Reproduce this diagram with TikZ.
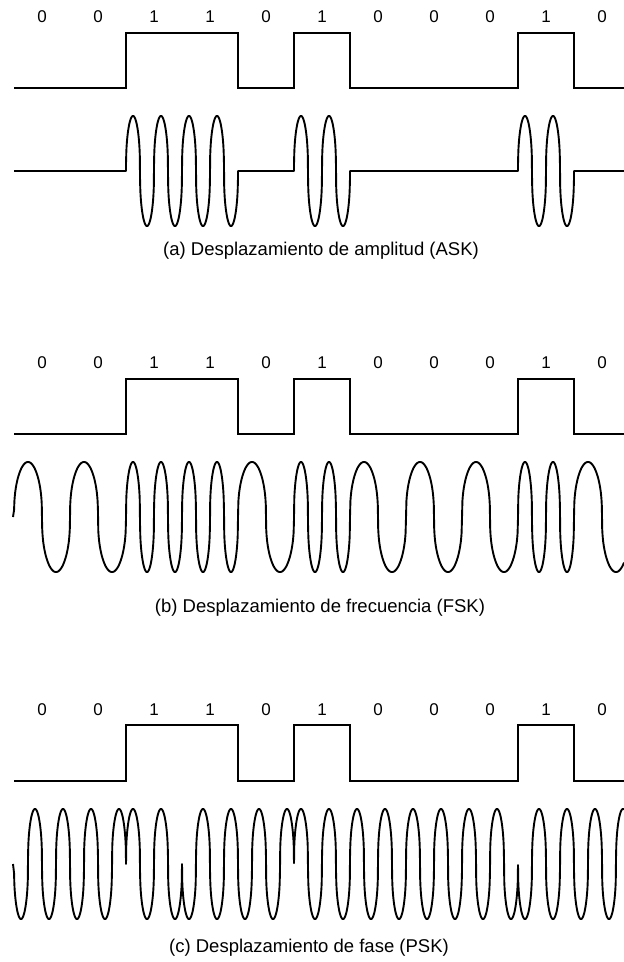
\documentclass[tikz,border=0pt]{standalone}
\usepackage{fontspec}
\setmainfont{Liberation Sans}
\begin{document}
\begin{tikzpicture}[x=1pt,y=-1pt,
  declare function={wv(\t)=sign(sin(\t))*pow(abs(sin(\t))+0.00001,0.4);},
  datasig/.style={line width=2.3pt, line join=miter, line cap=butt},
  wavesig/.style={line width=1.9pt, line join=round, line cap=butt},
  bitlbl/.style={inner sep=0pt, font=\fontsize{17}{17}\selectfont},
  caplbl/.style={inner sep=0pt, font=\fontsize{18.5}{18.5}\selectfont}]
\useasboundingbox (0,0) rectangle (624,962);
\fill[white] (0,0) rectangle (624,962);

% ---------- bit labels for the three panels ----------
\foreach \b [count=\i from 0] in {0,0,1,1,0,1,0,0,0,1,0} {
  \node[bitlbl] (ba\i) at ({42+56*\i},17) {\b};
  \node[bitlbl] (bb\i) at ({42+56*\i},363) {\b};
  \node[bitlbl] (bc\i) at ({42+56*\i},710) {\b};
}

% ---------- data signals ----------
\foreach \hi/\lo in {33/88, 379/434, 725/781} {
  \draw[datasig] (14,\lo) -- (126,\lo) -- (126,\hi) -- (238,\hi) -- (238,\lo)
     -- (294,\lo) -- (294,\hi) -- (350,\hi) -- (350,\lo) -- (518,\lo)
     -- (518,\hi) -- (574,\hi) -- (574,\lo) -- (624,\lo);
}

% ---------- (a) ASK ----------
\draw[wavesig] (14,171) -- (126,171)
  -- plot[domain=126.05:237.95, samples=400] (\x,{171-55*wv(12.857143*(\x-126))})
  -- (238,171) -- (294,171)
  -- plot[domain=294.05:349.95, samples=200] (\x,{171-55*wv(12.857143*(\x-294))})
  -- (350,171) -- (518,171)
  -- plot[domain=518.05:573.95, samples=200] (\x,{171-55*wv(12.857143*(\x-518))})
  -- (574,171) -- (624,171);
\node[caplbl] (capa) at (321,251) {(a) Desplazamiento de amplitud (ASK)};

% ---------- (b) FSK ----------
\draw[wavesig] (13,517)
  -- plot[domain=14.05:126, samples=300] (\x,{517-55*wv(6.4285714*(\x-14))})
  -- plot[domain=126:238, samples=400] (\x,{517-55*wv(12.857143*(\x-126))})
  -- plot[domain=238:294, samples=150] (\x,{517-55*wv(6.4285714*(\x-238))})
  -- plot[domain=294:350, samples=200] (\x,{517-55*wv(12.857143*(\x-294))})
  -- plot[domain=350:518, samples=400] (\x,{517-55*wv(6.4285714*(\x-350))})
  -- plot[domain=518:574, samples=200] (\x,{517-55*wv(12.857143*(\x-518))})
  -- plot[domain=574:624, samples=150] (\x,{517-55*wv(6.4285714*(\x-574))});
\node[caplbl] (capb) at (320,608) {(b) Desplazamiento de frecuencia (FSK)};

% ---------- (c) PSK ----------
\draw[wavesig] (13,864)
  -- plot[domain=14.05:126, samples=400] (\x,{864+55*wv(12.857143*(\x-14))})
  -- plot[domain=126:182, samples=200] (\x,{864-55*wv(12.857143*(\x-14))})
  -- plot[domain=182:294, samples=400] (\x,{864+55*wv(12.857143*(\x-14))})
  -- plot[domain=294:518, samples=800] (\x,{864-55*wv(12.857143*(\x-14))})
  -- plot[domain=518:624, samples=400] (\x,{864+55*wv(12.857143*(\x-14))});
\node[caplbl] (capc) at (309,948) {(c) Desplazamiento de fase (PSK)};
\end{tikzpicture}
\end{document}
